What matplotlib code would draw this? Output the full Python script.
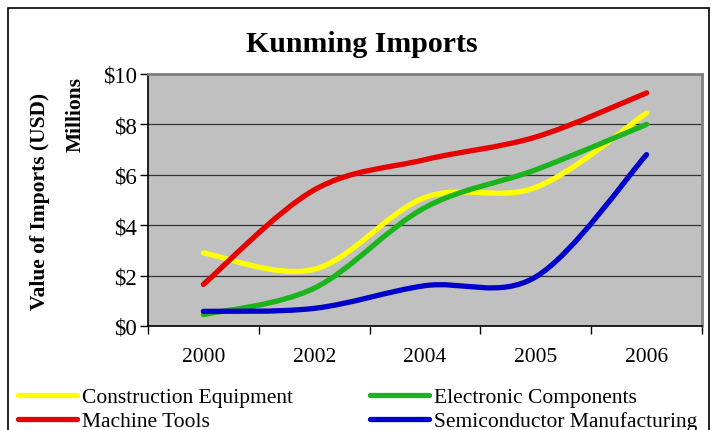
import numpy as np
import matplotlib.pyplot as plt
from matplotlib.path import Path
from matplotlib.patches import PathPatch, Rectangle
from matplotlib.lines import Line2D

plt.rcParams['font.family'] = ['Liberation Serif', 'DejaVu Serif']

# Data (millions of USD)
years = ['2000', '2002', '2004', '2005', '2006']
construction = [2.9, 2.25, 5.1, 5.5, 8.45]
electronic = [0.45, 1.5, 4.7, 6.2, 8.0]
machine = [1.65, 5.4, 6.6, 7.5, 9.25]
semiconductor = [0.58, 0.7, 1.6, 1.95, 6.8]

series = [
    ('Construction Equipment', construction, '#FFFF00'),
    ('Electronic Components', electronic, '#1CB41C'),
    ('Machine Tools', machine, '#E60000'),
    ('Semiconductor Manufacturing', semiconductor, '#0000CC'),
]


def smooth_path(xs, ys):
    # Excel-style smoothed line: cubic Bezier segments through the points
    pts = np.column_stack([xs, ys]).astype(float)
    n = len(pts)
    verts = [pts[0]]
    codes = [Path.MOVETO]
    for i in range(n - 1):
        p0 = pts[i - 1] if i > 0 else pts[i]
        p1 = pts[i]
        p2 = pts[i + 1]
        p3 = pts[i + 2] if i + 2 < n else pts[i + 1]
        c1 = p1 + (p2 - p0) / 6
        c2 = p2 - (p3 - p1) / 6
        verts += [c1, c2, p2]
        codes += [Path.CURVE4] * 3
    return Path(verts, codes)


fig = plt.figure(figsize=(7.11, 4.31), dpi=100)
ax = fig.add_axes([148 / 711, 104 / 431, 554 / 711, 252 / 431])
ax.set_facecolor('#C0C0C0')

x = np.arange(len(years))
for name, vals, color in series:
    patch = PathPatch(smooth_path(x, vals), facecolor='none', edgecolor=color,
                      lw=3.8, capstyle='round', joinstyle='round', zorder=3)
    ax.add_patch(patch)

ax.set_xlim(-0.5, len(years) - 0.5)
ax.set_ylim(0, 10)
ax.set_yticks(np.arange(0, 11, 2))
ax.set_yticklabels(['$%d' % v for v in range(0, 11, 2)], fontsize=16.5)
ax.set_xticks(np.arange(-0.5, len(years), 1))
ax.set_xticklabels([])
ax.set_xticks(x, minor=True)
ax.set_xticklabels(years, minor=True, fontsize=15.5)
ax.tick_params(axis='x', which='minor', length=0, pad=15)
ax.tick_params(axis='x', which='major', length=6, width=1, direction='out')
ax.tick_params(axis='y', length=6, width=1, direction='out', pad=2)
ax.grid(axis='y', color='#333333', lw=0.9)
ax.set_axisbelow(True)
for side in ['top', 'right']:
    ax.spines[side].set_color('#808080')
    ax.spines[side].set_linewidth(2)
ax.spines['left'].set_linewidth(1.2)
ax.spines['bottom'].set_linewidth(1.2)

fig.text(362 / 711, 1 - 45 / 431, 'Kunming Imports', ha='center', va='center',
         fontsize=21.5, fontweight='bold')
fig.text(40 / 711, 1 - 201 / 431, 'Value of Imports (USD)', rotation=90,
         ha='center', va='center', fontsize=15.5, fontweight='bold')
fig.text(76 / 711, 1 - 114 / 431, 'Millions', rotation=90,
         ha='center', va='center', fontsize=15.5, fontweight='bold')

# outer chart border
fig.patches.append(Rectangle((8 / 711, -0.01), 701 / 711, 1 - 9 / 431 + 0.01,
                             transform=fig.transFigure, fill=False,
                             edgecolor='black', lw=1.2))

handles = [Line2D([], [], color=c, lw=3.8, solid_capstyle='round') for _, _, c in series]
labels = [n for n, _, _ in series]
order = [0, 2, 1, 3]
fig.legend([handles[i] for i in order], [labels[i] for i in order], ncol=2,
           loc='upper left', bbox_to_anchor=(18 / 711, 1 - 388 / 431),
           frameon=False, fontsize=15.5, handlelength=2.75, handletextpad=0.2,
           columnspacing=3.6, labelspacing=0.2, borderaxespad=0, borderpad=0)

fig.savefig('out.png', dpi=100)
